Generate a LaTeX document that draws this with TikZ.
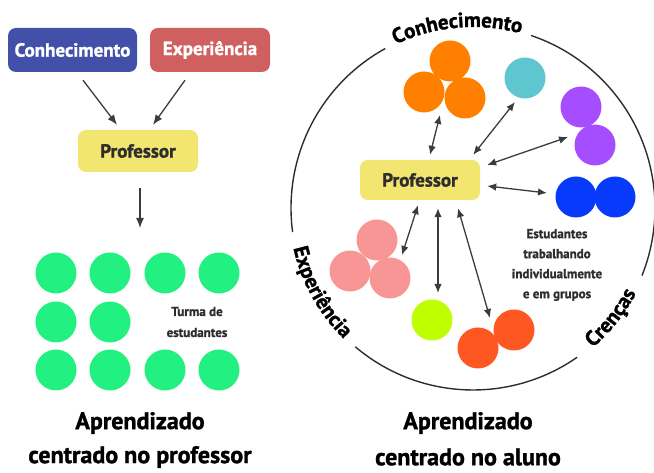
\documentclass[tikz,border=0pt]{standalone}
\usepackage{fontspec}
\setmainfont{PT Sans}[BoldFeatures={FakeBold=1.3}]
\usetikzlibrary{arrows.meta,decorations.text,calc}
\definecolor{conhc}{RGB}{66,80,170}
\definecolor{expc}{RGB}{208,96,96}
\definecolor{profc}{RGB}{242,230,112}
\definecolor{inkc}{RGB}{45,45,45}
\definecolor{arrowc}{RGB}{60,60,60}
\definecolor{greenc}{RGB}{34,240,128}
\definecolor{orangec}{RGB}{255,128,0}
\definecolor{cyanc}{RGB}{95,197,207}
\definecolor{purplec}{RGB}{166,77,255}
\definecolor{bluec}{RGB}{8,58,252}
\definecolor{pinkc}{RGB}{248,150,150}
\definecolor{limec}{RGB}{190,255,0}
\definecolor{redc}{RGB}{255,87,34}
\newcommand\ringfont{\bfseries\fontsize{21}{24}\selectfont}
\begin{document}
\begin{tikzpicture}[x=1pt,y=1pt,
  lbl/.style={font=\bfseries\fontsize{19}{22}\selectfont},
  box/.style={rounded corners=8pt, minimum height=44pt, inner sep=0pt, lbl},
  dot/.style={circle, minimum size=41pt, inner sep=0pt},
  arr/.style={-{Latex[length=10pt,width=8pt]}, line width=1.3pt, draw=arrowc},
  darr/.style={{Latex[length=9pt,width=7.5pt]}-{Latex[length=9pt,width=7.5pt]}, line width=1.3pt, draw=arrowc},
  ring/.style={line width=1.4pt, draw=inkc},
  small/.style={font=\bfseries\fontsize{13}{20}\selectfont, text=inkc, align=center},
  title/.style={font=\bfseries\fontsize{24}{28}\selectfont, text=black}
]
\useasboundingbox (0,0) rectangle (654,473);

% ---------- left: teacher-centred ----------
\node[box, fill=conhc, text=white, minimum width=129pt] (conh) at (72.5,423) {Conhecimento};
\node[box, fill=expc, text=white, minimum width=120pt] (exp) at (210,423) {Experiência};
\node[box, fill=profc, text=inkc, minimum width=120pt, minimum height=42pt] (profL) at (138,322) {Professor};
\draw[arr] ([xshift=10.5pt,yshift=-8pt]conh.south) -- ([xshift=-21pt,yshift=5pt]profL.north);
\draw[arr] ([xshift=-25pt,yshift=-8pt]exp.south) -- ([xshift=15pt,yshift=5pt]profL.north);
\coordinate (turmatop) at (140,245);
\draw[arr] ([xshift=2pt,yshift=-16pt]profL.south) -- (turmatop);

\foreach \i/\x in {1/56,2/110,3/165,4/219} {
  \node[dot, fill=greenc] (ga\i) at (\x,200) {};
  \node[dot, fill=greenc] (gc\i) at (\x,103) {};
}
\node[dot, fill=greenc] (gb1) at (56,151) {};
\node[dot, fill=greenc] (gb2) at (110,151) {};
\node[small, font=\bfseries\fontsize{13}{21}\selectfont] (turma) at (197,151) {Turma de\\estudantes};

\node[title] (tl1) at (140,50) {Aprendizado};
\node[title] (tl2) at (140,16) {centrado no professor};

% ---------- right: student-centred ----------
\coordinate (C) at (473,265);
\draw[ring] ($(C)+(71.4:182)$) arc[start angle=71.4, end angle=-21.8, radius=182];
\draw[ring] ($(C)+(-55.1:182)$) arc[start angle=-55.1, end angle=-130.3, radius=182];
\draw[ring] ($(C)+(118.8:182)$) arc[start angle=118.8, end angle=187.6, radius=182];

\path[decorate, decoration={text along path, text={|\ringfont|Conhecimento}, text align=center, raise=-1pt}]
  ($(C)+(118:182)$) arc[start angle=118, end angle=72, radius=182];
\path[decorate, decoration={text along path, text={|\ringfont|Experiência}, text align=center, raise=-2pt}]
  ($(C)+(188:182)$) arc[start angle=188, end angle=230, radius=182];
\path[decorate, decoration={text along path, text={|\ringfont|Crenças}, text align=center, raise=-2pt}]
  ($(C)+(-55:182)$) arc[start angle=-55, end angle=-22, radius=182];

\node[box, fill=profc, text=inkc, minimum width=120pt, minimum height=40pt] (profR) at (420,293) {Professor};

\node[dot, fill=orangec] (or1) at (450,412) {};
\node[dot, fill=orangec] (or2) at (424,381) {};
\node[dot, fill=orangec] (or3) at (465,375) {};
\node[dot, fill=cyanc] (cy) at (525,395) {};
\node[dot, fill=purplec] (pu1) at (581,366) {};
\node[dot, fill=purplec] (pu2) at (595,328) {};
\node[dot, fill=bluec] (bl1) at (576,276) {};
\node[dot, fill=bluec] (bl2) at (615,276) {};
\node[dot, fill=pinkc] (pk1) at (377,233) {};
\node[dot, fill=pinkc] (pk2) at (350,202) {};
\node[dot, fill=pinkc] (pk3) at (390,195) {};
\node[dot, fill=limec] (li) at (432,153) {};
\node[dot, fill=redc] (rd2) at (514,143) {};
\node[dot, fill=redc] (rd1) at (478,125) {};

\node[small] (estud) at (557,208) {Estudantes\\trabalhando\\individualmente\\e em grupos};

\draw[darr] ([shift={(10,5)}]profR.north) -- ([shift={(16,-23)}]or2.center);
\draw[darr] ([shift={(-7,5)}]profR.north east) -- ([shift={(-10,-24)}]cy.center);
\draw[darr] ([shift={(7,15)}]profR.east) -- ([shift={(-27,8)}]pu2.center);
\draw[darr] ([shift={(7,-6)}]profR.east) -- ([shift={(-29,4)}]bl1.center);
\draw[darr] ([shift={(-2,-5)}]profR.south) -- ([shift={(25,-15)}]pk1.center);
\draw[darr] ([shift={(18,-8)}]profR.south) -- ([shift={(6,27)}]li.center);
\draw[darr] ([shift={(38,-8)}]profR.south) -- ([shift={(12,30)}]rd1.center);

\node[title] (tr1) at (468,50) {Aprendizado};
\node[title] (tr2) at (468,16) {centrado no aluno};
\end{tikzpicture}
\end{document}
